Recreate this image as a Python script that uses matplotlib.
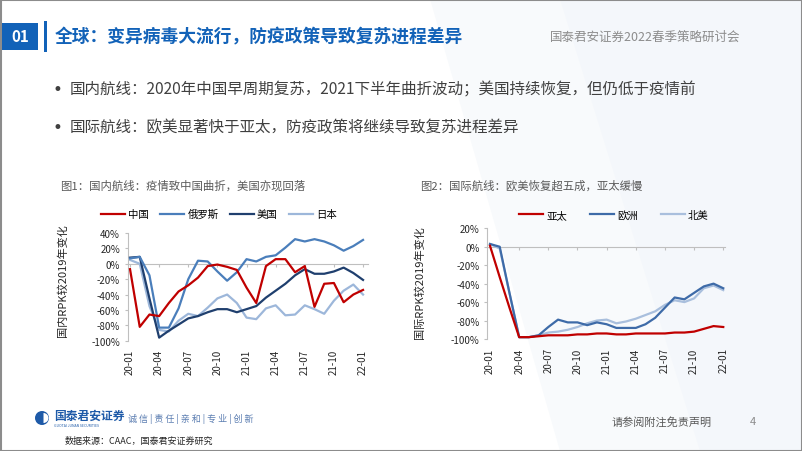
import numpy as np
import matplotlib
matplotlib.use("Agg")
import matplotlib.pyplot as plt
from matplotlib.patches import Rectangle, Polygon, Circle, Wedge

plt.rcParams['font.family'] = ['Noto Sans CJK SC', 'DejaVu Sans']

# 横轴：2020-01 至 2022-01，每月一个点
months = ['20-01', '20-02', '20-03', '20-04', '20-05', '20-06', '20-07', '20-08', '20-09',
          '20-10', '20-11', '20-12', '21-01', '21-02', '21-03', '21-04', '21-05', '21-06',
          '21-07', '21-08', '21-09', '21-10', '21-11', '21-12', '22-01']
tick_months = ['20-01', '20-04', '20-07', '20-10', '21-01', '21-04', '21-07', '21-10', '22-01']

# 图1 国内航线 RPK 较2019年变化（%）
china = [-7, -82, -66, -68, -51, -36, -28, -18, -3, -1, -4, -8, -31, -51, -3, 6, 6, -11, -3,
         -56, -26, -25, -50, -40, -34]
russia = [7, 9, -15, -83, -83, -58, -20, 4, 3, -10, -22, -11, 6, 3, 9, 11, 21, 32, 29, 32, 29,
          24, 17, 23, 31]
usa = [8, 9, -45, -96, -87, -79, -71, -68, -63, -59, -59, -63, -59, -55, -44, -35, -26, -15,
       -7, -13, -13, -10, -5, -12, -21]
japan = [5, 0, -55, -86, -88, -74, -65, -68, -57, -45, -40, -51, -70, -72, -58, -54, -67, -66,
         -54, -59, -65, -48, -35, -27, -40]

# 图2 国际航线 RPK 较2019年变化（%）
asia = [1, -33, -66, -98, -98, -97, -96, -96, -96, -95, -95, -94, -94, -95, -95, -94, -94, -94,
        -94, -93, -93, -92, -89, -86, -87]
europe = [3, 0, -50, -98, -98, -96, -87, -79, -82, -82, -85, -82, -84, -88, -88, -88, -84, -77,
          -66, -55, -57, -50, -43, -40, -45]
namerica = [3, -2, -50, -98, -98, -96, -93, -92, -90, -87, -83, -80, -79, -83, -81, -78, -74,
            -70, -63, -58, -60, -56, -45, -42, -47]

W, H = 802, 452
fig = plt.figure(figsize=(W / 100, H / 100), dpi=100)
fig.patch.set_facecolor('white')

# 背景层（像素坐标）
bg = fig.add_axes([0, 0, 1, 1], zorder=-1)
bg.set_xlim(0, W)
bg.set_ylim(H, 0)
bg.axis('off')
bg.add_patch(Polygon([(540, 0), (W, 0), (W, H), (600, H)], closed=True, color='#F4F7FB', lw=0))
bg.add_patch(Polygon([(430, 0), (560, 0), (700, H), (560, H)], closed=True, color='#F8FAFC', lw=0))
bg.add_patch(Rectangle((0.5, 0.5), W - 1, H - 1, fill=False, ec='#8C8C8C', lw=1.5))

blue = '#1262B8'
bg.add_patch(Rectangle((2, 24), 36, 27, color=blue, lw=0))
bg.text(20, 37.5, '01', color='white', fontsize=11, fontweight='bold', ha='center', va='center')
bg.add_patch(Rectangle((44, 22), 3, 31, color=blue, lw=0))
bg.text(55, 37.5, '全球：变异病毒大流行，防疫政策导致复苏进程差异', color=blue, fontsize=12.8,
        fontweight='bold', ha='left', va='center')
bg.text(740, 37.5, '国泰君安证券2022春季策略研讨会', color='#8C8C8C', fontsize=9,
        ha='right', va='center')

bullets = ['国内航线：2020年中国早周期复苏，2021下半年曲折波动；美国持续恢复，但仍低于疫情前',
           '国际航线：欧美显著快于亚太，防疫政策将继续导致复苏进程差异']
for i, b in enumerate(bullets):
    yb = 90 + i * 38
    bg.text(57, yb, '•', color='#404040', fontsize=12, ha='center', va='center',
            family='DejaVu Sans')
    bg.text(70, yb, b, color='#404040', fontsize=11.2, ha='left', va='center')

bg.text(60, 186, '图1：国内航线：疫情致中国曲折，美国亦现回落', color='#595959', fontsize=8.2,
        ha='left', va='center')
bg.text(420, 186, '图2：国际航线：欧美恢复超五成，亚太缓慢', color='#595959', fontsize=8.2,
        ha='left', va='center')

# 页脚
bg.add_patch(Circle((42, 419), 7, color='#1E5AA8', lw=0))
bg.add_patch(Wedge((43.5, 419), 5, -90, 90, color='white', lw=0))
bg.text(54, 416, '国泰君安证券', color='#1E5AA8', fontsize=8.5, fontweight='bold', ha='left', va='center')
bg.text(54, 426, 'GUOTAI JUNAN SECURITIES', color='#1E5AA8', fontsize=2.5, ha='left', va='center')
bg.text(128, 419, '诚 信 | 责 任 | 亲 和 | 专 业 | 创 新', color='#5B7DB1', fontsize=6.5,
        ha='left', va='center')
bg.text(65, 441, '数据来源：CAAC，国泰君安证券研究', color='#262626', fontsize=6.5, ha='left', va='center')
bg.text(612, 422, '请参阅附注免责声明', color='#595959', fontsize=8, ha='left', va='center')
bg.text(750, 422, '4', color='#8C8C8C', fontsize=8, ha='left', va='center')


def make_axes(left, top, right, bottom):
    return fig.add_axes([left / W, 1 - bottom / H, (right - left) / W, (bottom - top) / H])


def style_axes(ax, ylim, yticks, ylabel, label_xy):
    x = np.arange(len(months))
    ax.set_facecolor('none')
    ax.set_ylim(*ylim)
    ax.set_yticks(yticks)
    ax.set_yticklabels([f'{v}%' for v in yticks])
    ax.set_xticks(x[::3])
    ax.set_xticklabels(tick_months, rotation=90)
    for s in ['top', 'right', 'bottom']:
        ax.spines[s].set_visible(False)
    ax.spines['left'].set_color('#BFBFBF')
    ax.tick_params(axis='y', length=2.5, color='#BFBFBF', labelsize=7, labelcolor='#262626', pad=3)
    ax.tick_params(axis='x', length=0, labelsize=7, labelcolor='#262626', pad=6)
    ax.set_ylabel(ylabel, fontsize=8, color='#262626')
    ax.yaxis.set_label_coords(*label_xy)
    # 横轴线穿过 0%
    loc = (0 - ylim[0]) / (ylim[1] - ylim[0])
    sec = ax.secondary_xaxis(loc)
    sec.set_xticks(x[::3])
    sec.set_xticklabels([])
    sec.xaxis.set_ticks_position('bottom')
    sec.tick_params(labelbottom=False, labeltop=False, length=2.5, direction='out', color='#BFBFBF')
    for s in sec.spines.values():
        s.set_color('#BFBFBF')


x = np.arange(len(months))

# 图1
ax1 = make_axes(127.6, 234, 367.9, 341.7)
ax1.set_xlim(-0.25, 24.5)
ax1.plot(x, china, color='#C00000', lw=1.6, label='中国', zorder=5)
ax1.plot(x, russia, color='#4A7EBB', lw=1.6, label='俄罗斯', zorder=4)
ax1.plot(x, usa, color='#1F3F6E', lw=1.6, label='美国', zorder=3)
ax1.plot(x, japan, color='#9DB7DA', lw=1.6, label='日本', zorder=2)
style_axes(ax1, (-100, 40), [40, 20, 0, -20, -40, -60, -80, -100], '国内RPK较2019年变化',
           (-0.25, 0.57))
ax1.legend(ncol=4, loc='center', bbox_to_anchor=(219 / W, 1 - 215 / H),
           bbox_transform=fig.transFigure, frameon=False, fontsize=7.5, handlelength=2.3,
           handletextpad=0.3, columnspacing=1.1)

# 图2
ax2 = make_axes(487.1, 229.3, 725.2, 340)
ax2.set_xlim(-0.3, 24.2)
ax2.plot(x, asia, color='#C00000', lw=1.6, label='亚太', zorder=5)
ax2.plot(x, namerica, color='#A9BFDD', lw=1.6, label='北美', zorder=3)
ax2.plot(x, europe, color='#3E6BA8', lw=1.6, label='欧洲', zorder=4)
style_axes(ax2, (-100, 20), [20, 0, -20, -40, -60, -80, -100], '国际RPK较2019年变化',
           (-0.26, 0.52))
h, l = ax2.get_legend_handles_labels()
order = [0, 2, 1]
ax2.legend([h[i] for i in order], [l[i] for i in order], ncol=3, loc='center',
           bbox_to_anchor=(614 / W, 1 - 216 / H), bbox_transform=fig.transFigure,
           frameon=False, fontsize=7.5, handlelength=2.3, handletextpad=0.3, columnspacing=2.2)

fig.savefig('out.png', dpi=100)
